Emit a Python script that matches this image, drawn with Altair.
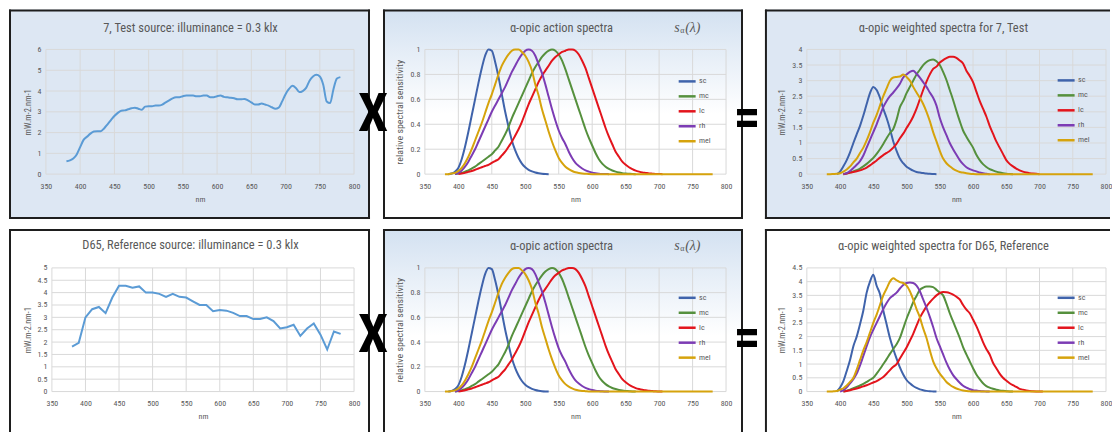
import altair as alt
import pandas as pd

FONT = "Liberation Sans Narrow, Arial Narrow, Roboto Condensed, Lato, sans-serif"
SERIF = "Liberation Serif, DejaVu Serif, serif"
TXT = "#595959"
GRID = "#d9d9d9"
BORDER = "#1e1e1e"
BLUE_BG = "#dde7f3"

NM_TICKS = [350, 400, 450, 500, 550, 600, 650, 700, 750, 800]
SERIES = ["sc", "mc", "lc", "rh", "mel"]
SERIES_COLORS = ["#3f63ab", "#55903d", "#e3141c", "#7c3cb4", "#d6a30c"]

# ---- source spectra (mW.m-2.nm-1)
TEST_SPD_START = 380  # 5 nm steps
TEST_SPD = [0.62, 0.66, 0.75, 0.95, 1.3, 1.65, 1.8, 1.95, 2.05, 2.07,
            2.07, 2.2, 2.4, 2.6, 2.8, 2.95, 3.05, 3.07, 3.12, 3.17,
            3.2, 3.15, 3.1, 3.25, 3.27, 3.27, 3.3, 3.3, 3.35, 3.45,
            3.55, 3.65, 3.7, 3.7, 3.75, 3.78, 3.78, 3.78, 3.75, 3.75,
            3.79, 3.78, 3.7, 3.7, 3.75, 3.78, 3.72, 3.7, 3.68, 3.65,
            3.6, 3.6, 3.62, 3.55, 3.45, 3.35, 3.35, 3.4, 3.35, 3.3,
            3.22, 3.15, 3.2, 3.5, 3.85, 4.1, 4.25, 4.15, 3.95, 4.0,
            4.15, 4.5, 4.7, 4.78, 4.7, 4.3, 3.5, 3.42, 4.1, 4.6,
            4.67]
D65_SPD_START = 380  # 10 nm steps
D65_SPD = [1.82, 1.97, 3.0, 3.33, 3.42, 3.17, 3.8, 4.28, 4.28, 4.2,
           4.25, 4.0, 4.0, 3.95, 3.83, 3.95, 3.83, 3.8, 3.65, 3.5,
           3.5, 3.25, 3.3, 3.27, 3.18, 3.05, 3.05, 2.93, 2.93, 3.0,
           2.85, 2.55, 2.6, 2.7, 2.25, 2.55, 2.75, 2.3, 1.7, 2.43,
           2.33]

# ---- alpha-opic action spectra (relative), 5 nm steps from the start wavelength
ACT_START = [385, 395, 400, 395, 380]
ACT_SC = [0.0, 0.005, 0.02, 0.05, 0.12, 0.22, 0.34, 0.47, 0.6, 0.73, 0.85, 0.95, 1.0, 0.99, 0.9, 0.78,
          0.64, 0.5, 0.38, 0.27, 0.19, 0.13, 0.085, 0.055, 0.035, 0.022, 0.013, 0.007, 0.003, 0.001, 0.0]
ACT_MC = [0.0, 0.005, 0.01, 0.02, 0.03, 0.045, 0.06, 0.08, 0.1, 0.12, 0.14, 0.16, 0.19, 0.22, 0.27, 0.32,
          0.38, 0.45, 0.51, 0.57, 0.63, 0.69, 0.75, 0.81, 0.86, 0.9, 0.94, 0.97, 0.99, 1.0, 0.99, 0.96,
          0.91, 0.84, 0.76, 0.68, 0.6, 0.52, 0.44, 0.36, 0.29, 0.23, 0.17, 0.12, 0.085, 0.06, 0.042,
          0.029, 0.02, 0.013, 0.008, 0.005, 0.003, 0.001, 0.0]
ACT_LC = [0.0, 0.005, 0.01, 0.018, 0.025, 0.035, 0.045, 0.055, 0.065, 0.075, 0.09, 0.105, 0.12, 0.15,
          0.18, 0.22, 0.26, 0.31, 0.36, 0.42, 0.49, 0.56, 0.62, 0.68, 0.74, 0.79, 0.83, 0.87, 0.91, 0.94,
          0.96, 0.98, 0.99, 1.0, 1.0, 0.99, 0.96, 0.91, 0.85, 0.77, 0.69, 0.61, 0.53, 0.45, 0.37, 0.3,
          0.24, 0.18, 0.14, 0.1, 0.075, 0.055, 0.04, 0.028, 0.02, 0.014, 0.01, 0.006, 0.004, 0.002,
          0.001, 0.0]
ACT_RH = [0.0, 0.01, 0.03, 0.06, 0.1, 0.15, 0.2, 0.26, 0.32, 0.38, 0.44, 0.5, 0.55, 0.6, 0.65, 0.7,
          0.76, 0.82, 0.87, 0.92, 0.96, 0.99, 1.0, 0.99, 0.95, 0.88, 0.81, 0.72, 0.62, 0.52, 0.43, 0.35,
          0.29, 0.24, 0.18, 0.13, 0.09, 0.065, 0.045, 0.03, 0.02, 0.012, 0.007, 0.004, 0.002, 0.001, 0.0]
ACT_MEL = [0.0, 0.0, 0.005, 0.01, 0.025, 0.05, 0.09, 0.14, 0.2, 0.27, 0.34, 0.41, 0.49, 0.57, 0.64,
           0.72, 0.8, 0.87, 0.92, 0.96, 0.99, 1.0, 1.0, 0.98, 0.95, 0.9, 0.83, 0.72, 0.63, 0.52, 0.43,
           0.34, 0.26, 0.19, 0.13, 0.09, 0.06, 0.04, 0.025, 0.015, 0.009, 0.005, 0.003, 0.001, 0.0]
MEL_TAIL_NM = [650, 700, 750, 780]
MEL_TAIL = [0.0, 0.0, 0.0, 0.0]

# ---- weighted spectra for the test source
TW_START = [395, 405, 405, 405, 380]
TW_SC = [0.0, 0.08, 0.25, 0.45, 0.7, 1.0, 1.28, 1.55, 1.88, 2.25, 2.6, 2.8, 2.7, 2.45, 2.1, 1.8,
         1.45, 1.05, 0.75, 0.5, 0.35, 0.24, 0.17, 0.11, 0.07, 0.05, 0.035, 0.02, 0.01, 0.005, 0.0]
TW_MC = [0.0, 0.02, 0.05, 0.09, 0.13, 0.18, 0.25, 0.33, 0.42, 0.52, 0.65, 0.8, 0.97, 1.15, 1.32,
         1.45, 1.75, 2.15, 2.35, 2.6, 2.8, 3.0, 3.2, 3.35, 3.5, 3.6, 3.66, 3.68, 3.62, 3.5, 3.28,
         3.02, 2.7, 2.38, 2.03, 1.7, 1.4, 1.2, 1.02, 0.85, 0.62, 0.45, 0.32, 0.23, 0.16, 0.12, 0.08,
         0.05, 0.03, 0.015, 0.005, 0.0]
TW_LC = [0.0, 0.02, 0.05, 0.07, 0.09, 0.12, 0.16, 0.21, 0.28, 0.36, 0.44, 0.53, 0.61, 0.68, 0.75,
         0.85, 0.98, 1.15, 1.3, 1.48, 1.65, 1.85, 2.1, 2.4, 2.7, 2.97, 3.2, 3.38, 3.45, 3.58, 3.66,
         3.72, 3.77, 3.77, 3.73, 3.65, 3.55, 3.32, 3.15, 2.95, 2.65, 2.35, 2.1, 1.85, 1.55, 1.3,
         1.05, 0.85, 0.65, 0.45, 0.33, 0.25, 0.18, 0.12, 0.08, 0.05, 0.03, 0.02, 0.01, 0.0]
TW_RH = [0.0, 0.03, 0.1, 0.2, 0.3, 0.42, 0.6, 0.85, 1.1, 1.35, 1.6, 1.88, 2.15, 2.35, 2.5, 2.62,
         2.75, 2.9, 3.1, 3.2, 3.28, 3.32, 3.22, 3.1, 2.95, 2.8, 2.62, 2.45, 2.2, 1.8, 1.5, 1.25,
         1.0, 0.8, 0.62, 0.45, 0.32, 0.22, 0.16, 0.12, 0.09, 0.05, 0.03, 0.01, 0.0]
TW_MEL = [0.0, 0.0, 0.005, 0.01, 0.03, 0.08, 0.15, 0.25, 0.38, 0.5, 0.68, 0.85, 1.08, 1.35, 1.65,
          1.9, 2.2, 2.5, 2.75, 3.0, 3.1, 3.12, 3.13, 3.2, 3.12, 3.0, 2.8, 2.62, 2.45, 2.25, 2.0,
          1.7, 1.35, 1.05, 0.75, 0.5, 0.35, 0.25, 0.17, 0.11, 0.07, 0.05, 0.03, 0.015, 0.005, 0.0]

# ---- weighted spectra for D65
DW_START = [395, 405, 405, 400, 380]
DW_SC = [0.0, 0.15, 0.38, 0.75, 1.15, 1.65, 2.0, 2.45, 2.95, 3.6, 4.0, 4.25, 3.85, 3.55, 2.95, 2.45,
         1.95, 1.55, 1.2, 0.88, 0.62, 0.42, 0.3, 0.2, 0.13, 0.08, 0.05, 0.025, 0.01, 0.005, 0.0]
DW_MC = [0.0, 0.03, 0.07, 0.12, 0.17, 0.22, 0.28, 0.35, 0.43, 0.5, 0.65, 0.82, 1.0, 1.18, 1.37,
         1.55, 1.72, 1.95, 2.3, 2.65, 2.95, 3.25, 3.48, 3.7, 3.78, 3.82, 3.82, 3.8, 3.7, 3.6, 3.5,
         3.2, 2.85, 2.55, 2.25, 1.95, 1.62, 1.35, 1.1, 0.85, 0.62, 0.45, 0.3, 0.2, 0.14, 0.1, 0.065,
         0.04, 0.025, 0.015, 0.005, 0.0]
DW_LC = [0.0, 0.02, 0.05, 0.08, 0.11, 0.15, 0.19, 0.23, 0.28, 0.33, 0.38, 0.45, 0.53, 0.65, 0.78,
         0.9, 1.0, 1.2, 1.4, 1.6, 1.85, 2.1, 2.4, 2.68, 2.9, 3.1, 3.25, 3.38, 3.5, 3.58, 3.62, 3.61,
         3.58, 3.53, 3.45, 3.35, 3.15, 2.98, 2.85, 2.62, 2.38, 2.1, 1.8, 1.55, 1.35, 1.05, 0.85,
         0.65, 0.5, 0.4, 0.3, 0.23, 0.17, 0.1, 0.07, 0.04, 0.02, 0.012, 0.006, 0.002, 0.0]
DW_RH = [0.0, 0.05, 0.15, 0.3, 0.45, 0.65, 0.95, 1.3, 1.65, 1.98, 2.25, 2.5, 2.75, 3.0, 3.22, 3.4,
         3.5, 3.6, 3.75, 3.88, 3.95, 3.97, 3.95, 3.85, 3.65, 3.35, 3.05, 2.72, 2.35, 1.95, 1.65,
         1.35, 1.05, 0.8, 0.6, 0.45, 0.32, 0.21, 0.14, 0.09, 0.05, 0.035, 0.02, 0.01, 0.005, 0.0]
DW_MEL = [0.0, 0.0, 0.01, 0.02, 0.07, 0.12, 0.22, 0.35, 0.5, 0.8, 1.15, 1.5, 1.8, 2.15, 2.5, 2.8,
          3.15, 3.5, 3.75, 4.0, 4.12, 4.05, 3.98, 3.95, 3.85, 3.65, 3.35, 3.0, 2.7, 2.3, 1.95, 1.5,
          1.1, 0.85, 0.65, 0.5, 0.35, 0.25, 0.17, 0.11, 0.07, 0.04, 0.02, 0.01, 0.0]

Y_TEST = [0, 1, 2, 3, 4, 5, 6]
Y_ACT = [0, 0.2, 0.4, 0.6, 0.8, 1]
Y_TW = [0, 0.5, 1, 1.5, 2, 2.5, 3, 3.5, 4]
Y_D65 = [0, 0.5, 1, 1.5, 2, 2.5, 3, 3.5, 4, 4.5, 5]
Y_DW = [0, 0.5, 1, 1.5, 2, 2.5, 3, 3.5, 4, 4.5]


def single_frame(start, step, values):
    return pd.DataFrame({"nm": [start + step * i for i in range(len(values))], "val": values})


def multi_frame(starts, lists, tail_nm=None, tail_val=None):
    rows = []
    for name, s, vals in zip(SERIES, starts, lists):
        for i, v in enumerate(vals):
            rows.append({"nm": s + 5 * i, "val": v, "series": name})
    if tail_nm:
        for nm, v in zip(tail_nm, tail_val):
            rows.append({"nm": nm, "val": v, "series": "mel"})
    return pd.DataFrame(rows)


ONE = alt.Data(values=[{"k": 1}])
CELL_W = 309


def text_layer(txt, x, y, size=12.5, font=FONT, color=TXT, weight="normal", style="normal",
               align="center"):
    return alt.Chart(ONE).mark_text(font=font, fontSize=size, color=color, fontWeight=weight,
                                    fontStyle=style, align=align, baseline="middle").encode(
        x=alt.value(x), y=alt.value(y), text=alt.value(txt))


def frame_layers(rect, fill, sides):
    x0, x1, y0, y1 = rect
    layers = [alt.Chart(ONE).mark_rect(fill=fill, strokeWidth=0).encode(
        x=alt.value(x0), x2=alt.value(x1), y=alt.value(y0), y2=alt.value(y1))]
    # border sides drawn as rules (panels cut by the picture edge have open sides)
    segs = {"top": (x0 + 1, x1 - 1, y0 + 1, y0 + 1), "bottom": (x0 + 1, x1 - 1, y1 - 1, y1 - 1),
            "left": (x0 + 1, x0 + 1, y0 + 1, y1 - 1), "right": (x1 - 1, x1 - 1, y0 + 1, y1 - 1)}
    for s in sides:
        a, b, c, d = segs[s]
        layers.append(alt.Chart(ONE).mark_rule(color=BORDER, strokeWidth=2, strokeCap="square").encode(
            x=alt.value(a), x2=alt.value(b), y=alt.value(c), y2=alt.value(d)))
    return layers


def panel(df, ymax, yticks, xr, height, rect, fill, sides, title, title_xy, ytitle, ytitle_x,
          ytitle_size=8.5, yoffset=0, legend_y=None, interp="monotone", extras=()):
    xscale = alt.Scale(domain=[350, 800], range=list(xr), nice=False, zero=False)
    yscale = alt.Scale(domain=[0, ymax], nice=False, zero=True)
    xaxis = alt.Axis(values=NM_TICKS, title="nm", grid=False, domain=False, ticks=False, tickSize=0,
                     labelPadding=8, labelFont=FONT, labelFontSize=8, labelColor=TXT,
                     labelFlush=False, labelOverlap=False, titleFont=FONT, titleFontSize=8,
                     titleFontWeight="normal", titleColor=TXT, titlePadding=5, zindex=1)
    yaxis = alt.Axis(values=yticks, format=".1~f", title=ytitle, grid=False, domain=False,
                     ticks=False, tickSize=0, labelPadding=5, labelFont=FONT, labelFontSize=8,
                     labelColor=TXT, labelOverlap=False, offset=yoffset, titleFont=FONT,
                     titleFontSize=ytitle_size, titleFontWeight="normal", titleColor=TXT,
                     titleX=ytitle_x, titleY=height / 2, titleAngle=270, titleAlign="center",
                     titleBaseline="middle", zindex=1)
    gx = alt.Chart(pd.DataFrame({"nm": NM_TICKS})).mark_rule(color=GRID, strokeWidth=1).encode(
        x=alt.X("nm:Q", scale=xscale, axis=xaxis))
    gy = alt.Chart(pd.DataFrame({"val": yticks})).mark_rule(color=GRID, strokeWidth=1).encode(
        y=alt.Y("val:Q", scale=yscale, axis=yaxis),
        x=alt.datum(350, scale=xscale, axis=xaxis), x2=alt.datum(800))
    enc = dict(x=alt.X("nm:Q", scale=xscale, axis=xaxis), y=alt.Y("val:Q", scale=yscale, axis=yaxis))
    if "series" in df.columns:
        leg = alt.Legend(orient="none", legendX=253, legendY=legend_y, title=None,
                         symbolType="stroke", symbolSize=289, symbolStrokeWidth=2.5,
                         labelFont=FONT, labelFontSize=8, labelColor=TXT, labelOffset=2,
                         rowPadding=-1, padding=0)
        enc["color"] = alt.Color("series:N", scale=alt.Scale(domain=SERIES, range=SERIES_COLORS),
                                 legend=leg)
        lines = alt.Chart(df).mark_line(strokeWidth=2, interpolate=interp).encode(**enc)
    else:
        lines = alt.Chart(df).mark_line(strokeWidth=2, interpolate=interp, color="#5b9bd5").encode(**enc)
    ttl = text_layer(title, title_xy[0], title_xy[1])
    return alt.layer(*frame_layers(rect, fill, sides), gx, gy, lines, ttl, *extras).properties(
        width=CELL_W, height=height)


def gradient():
    return alt.Gradient(gradient="linear", x1=0, y1=0, x2=0, y2=1,
                        stops=[alt.GradientStop(color="#d3e1f1", offset=0),
                               alt.GradientStop(color="#ffffff", offset=0.5),
                               alt.GradientStop(color="#ffffff", offset=1)])


def salpha(y):
    return [text_layer("s", 250, y, size=14, font=SERIF, style="italic", align="left"),
            text_layer("α", 256, y + 3, size=8, font=SERIF, align="left"),
            text_layer("(λ)", 261, y, size=14, font=SERIF, style="italic", align="left")]


def big_x(y):
    return text_layer("X", -52, y, size=54, font=FONT, color="black", weight="bold")


def big_eq(y):
    return text_layer("=", -57, y, size=54, font=FONT, color="black", weight="bold")


test_df = single_frame(TEST_SPD_START, 5, TEST_SPD)
d65_df = single_frame(D65_SPD_START, 10, D65_SPD)
act_df = multi_frame(ACT_START, [ACT_SC, ACT_MC, ACT_LC, ACT_RH, ACT_MEL], MEL_TAIL_NM, MEL_TAIL)
tw_df = multi_frame(TW_START, [TW_SC, TW_MC, TW_LC, TW_RH, TW_MEL], MEL_TAIL_NM, MEL_TAIL)
dw_df = multi_frame(DW_START, [DW_SC, DW_MC, DW_LC, DW_RH, DW_MEL], MEL_TAIL_NM, MEL_TAIL)

H1, H2 = 125, 124
ALL4 = ["top", "bottom", "left", "right"]
REL = "relative spectral sensitivity"

r1c1 = panel(test_df, 6, Y_TEST, (0, 309), H1, (-37, 325, -40, 170), BLUE_BG, ALL4,
             "7, Test source: illuminance = 0.3 klx", (145, -22), "mW.m-2.nm-1", -18)
r1c2 = panel(act_df, 1, Y_ACT, (0, 302), H1, (-42, 319, -40, 170), gradient(), ALL4,
             "α-opic action spectra", (137, -22), REL, -25, ytitle_size=10,
             legend_y=22, extras=salpha(-22) + [big_x(66)])
r1c3 = panel(tw_df, 4, Y_TW, (3, 303), H1, (-39, 307, -40, 170), BLUE_BG, ["top", "bottom", "left"],
             "α-opic weighted spectra for 7, Test", (140, -22), "mW.m-2.nm-1", -25, yoffset=-3,
             legend_y=21, extras=[big_eq(70)])
r2c1 = panel(d65_df, 5, Y_D65, (6, 309), H2, (-37, 325, -39, 175), "#ffffff", ["top", "left", "right"],
             "D65, Reference source: illuminance = 0.3 klx", (145, -23), "mW.m-2.nm-1", -24,
             yoffset=-6, interp="linear")
r2c2 = panel(act_df, 1, Y_ACT, (0, 302), H2, (-42, 319, -39, 175), gradient(), ["top", "left", "right"],
             "α-opic action spectra", (137, -22), REL, -25, ytitle_size=10,
             legend_y=20, extras=salpha(-22) + [big_x(68)])
r2c3 = panel(dw_df, 4.5, Y_DW, (3, 303), H2, (-39, 307, -39, 175), "#ffffff", ["top", "left"],
             "α-opic weighted spectra for D65, Reference", (140, -22), "mW.m-2.nm-1", -25,
             yoffset=-3, legend_y=20, extras=[big_eq(71)])

chart = alt.concat(r1c1, r1c2, r1c3, r2c1, r2c2, r2c3, columns=3,
                   spacing={"row": 94, "column": 71}, bounds="flush").resolve_scale(
    color="independent", x="independent", y="independent").resolve_legend(
    color="independent").configure_view(stroke=None).configure_axis(
    titleColor=TXT, labelColor=TXT).properties(padding=0, background="white")

chart.save("out.html", embed_options={"renderer": "svg", "actions": False})
